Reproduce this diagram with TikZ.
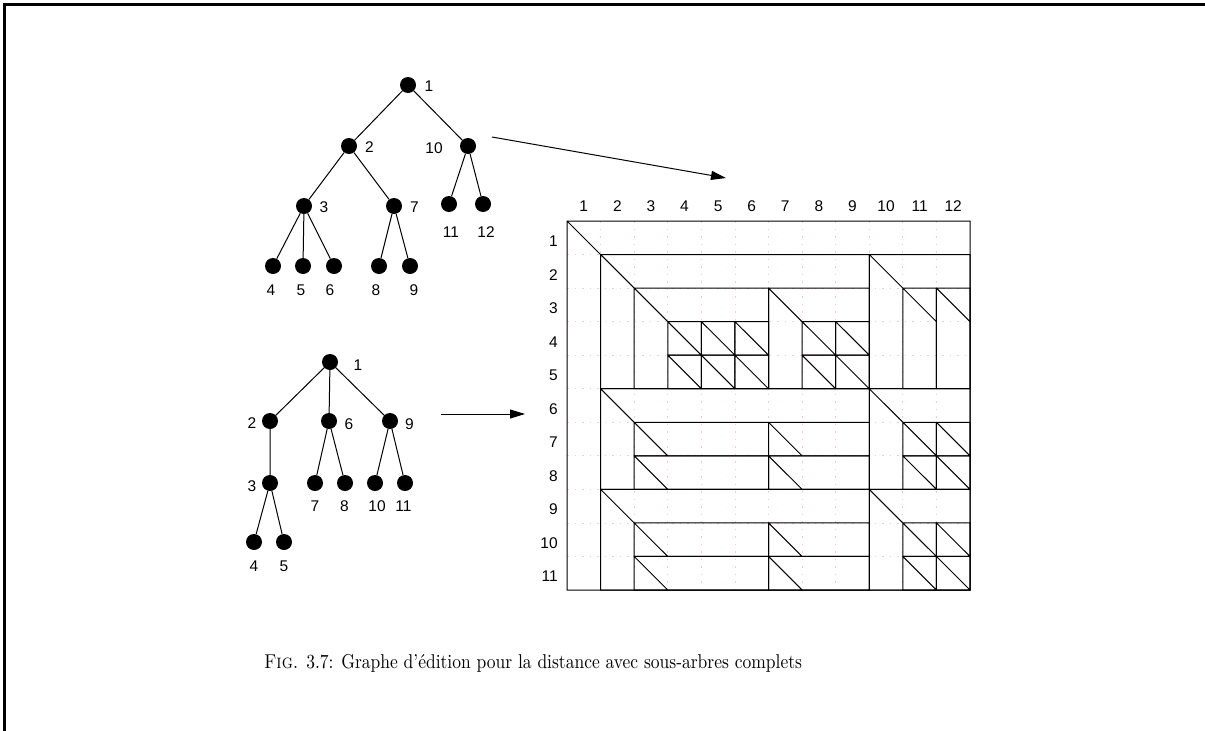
\documentclass[tikz,border=0pt]{standalone}
\usepackage{fontspec}
\newfontfamily\lblfont{Liberation Sans}
\usetikzlibrary{arrows.meta}
% box of the edit graph with its diagonal from the top-left corner
\newcommand\gbox[4]{\draw[cellline] (#1,#2) rectangle (#3,#4) (#1,#2) -- ++(1,1);}
% single cell with its diagonal
\newcommand\gcell[2]{\draw[cellline] (#1,#2) rectangle ++(1,1) (#1,#2) -- ++(1,1);}
\begin{document}
\begin{tikzpicture}[x=1pt,y=-1pt,
  dot/.style={circle,fill=black,inner sep=0pt,minimum size=16pt},
  num/.style={font=\lblfont\fontsize{15.5}{18}\selectfont,inner sep=0pt},
  edge/.style={line width=1pt},
  link/.style={line width=1pt,-{Triangle[length=15pt,width=9pt]}},
  cellline/.style={line width=1pt},
  guide/.style={draw=red!22,line width=0.8pt,dash pattern=on 1.5pt off 6pt}]
\useasboundingbox (0,0) rectangle (1205,731);
% frame
\draw[line width=3pt,line join=miter] (4,731) -- (4,4.7) -- (1205,4.7);

% first tree
\node[dot] (t1) at (408,85) {};
\node[dot] (t2) at (349,146) {};
\node[dot] (t10) at (468,146) {};
\node[dot] (t3) at (304,206) {};
\node[dot] (t7) at (394,206) {};
\node[dot] (t11) at (449,204) {};
\node[dot] (t12) at (483,204) {};
\node[dot] (t4) at (273,266) {};
\node[dot] (t5) at (303,266) {};
\node[dot] (t6) at (334,266) {};
\node[dot] (t8) at (379,266) {};
\node[dot] (t9) at (410,266) {};
\draw[edge] (t1) -- (t2) (t1) -- (t10) (t2) -- (t3) (t2) -- (t7)
  (t3) -- (t4) (t3) -- (t5) (t3) -- (t6) (t7) -- (t8) (t7) -- (t9)
  (t10) -- (t11) (t10) -- (t12);
\node[num] (l1) at (429,86) {1};
\node[num] (l2) at (369.5,147) {2};
\node[num] (l10) at (434,148) {10};
\node[num] (l3) at (324,207) {3};
\node[num] (l7) at (414.5,207) {7};
\node[num] (l11) at (451,232) {11};
\node[num] (l12) at (486,232) {12};
\node[num] (l4) at (271,290) {4};
\node[num] (l5) at (301,290) {5};
\node[num] (l6) at (330,290) {6};
\node[num] (l8) at (376,290) {8};
\node[num] (l9) at (414,290) {9};

% second tree
\node[dot] (m1) at (330,362) {};
\node[dot] (m2) at (270,421) {};
\node[dot] (m6) at (329,421) {};
\node[dot] (m9) at (390,421) {};
\node[dot] (m3) at (270,483) {};
\node[dot] (m7) at (315,483) {};
\node[dot] (m8) at (345,483) {};
\node[dot] (m10) at (375,483) {};
\node[dot] (m11) at (405,483) {};
\node[dot] (m4) at (254,542) {};
\node[dot] (m5) at (284,542) {};
\draw[edge] (m1) -- (m2) (m1) -- (m6) (m1) -- (m9) (m2) -- (m3)
  (m3) -- (m4) (m3) -- (m5) (m6) -- (m7) (m6) -- (m8)
  (m9) -- (m10) (m9) -- (m11);
\node[num] (k1) at (358,365) {1};
\node[num] (k2) at (252,423) {2};
\node[num] (k6) at (349,424) {6};
\node[num] (k9) at (409.5,424) {9};
\node[num] (k3) at (252,486) {3};
\node[num] (k7) at (315,506) {7};
\node[num] (k8) at (344.5,506) {8};
\node[num] (k10) at (377,506) {10};
\node[num] (k11) at (403.5,506) {11};
\node[num] (k4) at (254,566) {4};
\node[num] (k5) at (284,566) {5};

% arrows towards the edit graph
\coordinate (a1s) at (492,137);
\coordinate (a1e) at (726,178);
\draw[link] (a1s) -- (a1e);
\coordinate (a2s) at (441,414);
\coordinate (a2e) at (525,414);
\draw[link] (a2s) -- (a2e);

% edit graph
\begin{scope}[shift={(567,221)},x=33.583pt,y=-33.545pt]
  \foreach \i in {1,...,11} \draw[guide] (\i,0) -- (\i,11);
  \foreach \j in {1,...,10} \draw[guide] (0,\j) -- (12,\j);
  \foreach \i in {1,...,12} \node[num] (c\i) at ({\i-0.5},-0.43) {\i};
  \foreach \j in {1,...,11} \node[num,anchor=east] (r\j) at (-0.27,{\j-0.4}) {\j};
  % whole trees
  \gbox{0}{0}{12}{11}
  % subtrees 2 and 10 against subtrees 2, 6, 9
  \gbox{1}{1}{9}{5}  \gbox{9}{1}{12}{5}
  \gbox{1}{5}{9}{8}  \gbox{9}{5}{12}{8}
  \gbox{1}{8}{9}{11} \gbox{9}{8}{12}{11}
  % rows 3-5
  \gbox{2}{2}{6}{5} \gbox{6}{2}{9}{5}
  \foreach \x in {3,4,5,7,8} \foreach \y in {3,4} {\gcell{\x}{\y}}
  \gbox{10}{2}{11}{5} \gbox{11}{2}{12}{5}
  % rows 6-8
  \gbox{2}{6}{6}{7} \gbox{2}{7}{6}{8}
  \draw[cellline] (6,7) -- (9,7) (6,6) -- (9,6) (6,6) -- (7,7);
  \gbox{6}{7}{9}{8}
  \foreach \x in {10,11} \foreach \y in {6,7} {\gcell{\x}{\y}}
  % rows 9-11
  \gbox{2}{9}{6}{10} \gbox{2}{10}{6}{11}
  \gbox{6}{9}{9}{10} \gbox{6}{10}{9}{11}
  \foreach \x in {10,11} \foreach \y in {9,10} {\gcell{\x}{\y}}
\end{scope}

% caption
\node[font=\fontsize{10}{12}\selectfont,inner sep=0pt,xscale=1.75,yscale=2.0,transform shape] (cap) at (533,663)
  {\textsc{Fig.} 3.7: Graphe d'édition pour la distance avec sous-arbres complets};
\end{tikzpicture}
\end{document}
